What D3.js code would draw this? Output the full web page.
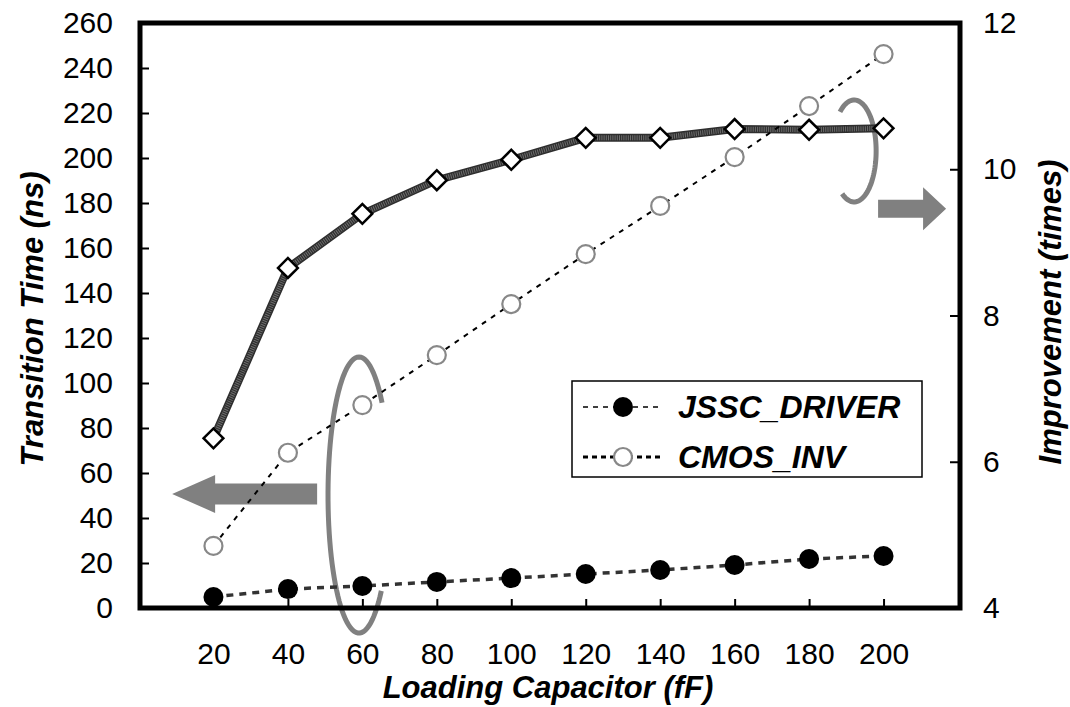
<!DOCTYPE html>
<html>
<head>
<script src="https://d3js.org/d3.v7.min.js"></script>
<style>
  body { margin: 0; background: #fff; }
  text { font-family: Arial, "Liberation Sans", sans-serif; fill: #000; }
  .tick-label { font-size: 30px; }
  .title { font-size: 31px; font-weight: bold; font-style: italic; }
  .legend-label { font-size: 32px; font-weight: bold; font-style: italic; }
</style>
</head>
<body>
<svg width="1070" height="707"></svg>
<script>
// loading capacitor (fF)
const caps = [20, 40, 60, 80, 100, 120, 140, 160, 180, 200];
// transition time (ns), left axis
const jsscDriver = [4.9, 8.4, 9.8, 11.6, 13.3, 15.1, 16.9, 19.1, 21.8, 23.1];
const cmosInv = [27.6, 69, 90.2, 112.4, 135.1, 157.3, 178.7, 200.4, 223.1, 246.2];
// improvement (times), right axis
const improvement = [6.32, 8.65, 9.39, 9.85, 10.13, 10.43, 10.43, 10.55, 10.54, 10.56];

const leftTicks = d3.range(0, 261, 20);
const rightTicks = [4, 6, 8, 10, 12];

const svg = d3.select("svg");
const plotL = 140, plotR = 960, plotT = 23, plotB = 608;

const x = d3.scaleLinear().domain([0, 220]).range([139, 958]);
const yL = d3.scaleLinear().domain([0, 260]).range([plotB, plotT]);
const yR = d3.scaleLinear().domain([4, 12]).range([plotB, plotT]);

const gray = "#808080";

// annotations: ellipses + arrows (drawn below the series)
function arcPath(cx, cy, rx, ry, a0, a1) {
  const pts = [];
  const n = 80;
  for (let i = 0; i <= n; i++) {
    const a = (a0 + (a1 - a0) * i / n) * Math.PI / 180;
    pts.push([cx + rx * Math.cos(a), cy + ry * Math.sin(a)]);
  }
  return d3.line()(pts);
}
const ann = svg.append("g");
ann.append("path")
  .attr("d", arcPath(x(59.1), yL(50.2), 31, 138, -42, -316))
  .attr("fill", "none").attr("stroke", gray).attr("stroke-width", 5);
ann.append("path")
  .attr("d", arcPath(x(192.1), yR(10.25), 22, 51, -130, 123))
  .attr("fill", "none").attr("stroke", gray).attr("stroke-width", 5);

const lArrow = [[0, 0], [43, -19], [43, -10.5], [145, -10.5], [145, 10.5], [43, 10.5], [43, 19]];
ann.append("polygon")
  .attr("points", lArrow.map(p => [x(8.9) + p[0], yL(50.7) + p[1]]).join(" "))
  .attr("fill", gray);
const rArrow = [[0, 0], [-23, -21.5], [-23, -9], [-68, -9], [-68, 9], [-23, 9], [-23, 21.5]];
ann.append("polygon")
  .attr("points", rArrow.map(p => [x(216.8) + p[0], yR(9.46) + p[1]]).join(" "))
  .attr("fill", gray);

// frame
svg.append("rect")
  .attr("x", plotL).attr("y", plotT)
  .attr("width", plotR - plotL).attr("height", plotB - plotT)
  .attr("fill", "none").attr("stroke", "#000").attr("stroke-width", 5);

// axes
const xAxis = svg.append("g")
  .attr("transform", `translate(0,${plotB})`)
  .call(d3.axisBottom(x).tickValues(caps).tickSizeInner(-9).tickSizeOuter(0).tickPadding(25));
const yAxisL = svg.append("g")
  .attr("transform", `translate(${plotL},0)`)
  .call(d3.axisLeft(yL).tickValues(leftTicks).tickSizeInner(-9).tickSizeOuter(0).tickPadding(27));
const yAxisR = svg.append("g")
  .attr("transform", `translate(${plotR},0)`)
  .call(d3.axisRight(yR).tickValues(rightTicks).tickSizeInner(-10).tickSizeOuter(0).tickPadding(23));

[xAxis, yAxisL, yAxisR].forEach(g => {
  g.select(".domain").remove();
  g.selectAll(".tick line").attr("stroke", "#000").attr("stroke-width", 2);
  g.selectAll(".tick text").attr("class", "tick-label").attr("fill", "#000");
  g.attr("font-size", null).attr("font-family", null);
});
xAxis.selectAll(".tick text").attr("dy", "0.32em").attr("y", 46);

// axis titles
svg.append("text").attr("class", "title")
  .attr("x", 548).attr("y", 698).attr("text-anchor", "middle")
  .text("Loading Capacitor (fF)");
svg.append("text").attr("class", "title")
  .attr("transform", "translate(43,319) rotate(-90)")
  .attr("text-anchor", "middle")
  .text("Transition Time (ns)");
svg.append("text").attr("class", "title")
  .attr("transform", "translate(1061,312) rotate(-90)")
  .attr("text-anchor", "middle")
  .text("Improvement (times)");

// improvement series (thick hatched line)
const impLine = d3.line().x((d, i) => x(caps[i])).y(d => yR(d));
svg.append("path").datum(improvement)
  .attr("d", impLine).attr("fill", "none")
  .attr("stroke", "#2e2e2e").attr("stroke-width", 8);
svg.append("path").datum(improvement)
  .attr("d", impLine).attr("fill", "none")
  .attr("stroke", "#6e6e6e").attr("stroke-width", 5).attr("stroke-dasharray", "1,1.2");

// CMOS_INV
const lLine = d3.line().x((d, i) => x(caps[i])).y(d => yL(d));
svg.append("path").datum(cmosInv)
  .attr("d", lLine).attr("fill", "none")
  .attr("stroke", "#000").attr("stroke-width", 2).attr("stroke-dasharray", "5,6");
// JSSC_DRIVER
svg.append("path").datum(jsscDriver)
  .attr("d", lLine).attr("fill", "none")
  .attr("stroke", "#333").attr("stroke-width", 3.5).attr("stroke-dasharray", "7,6");

// markers
svg.append("g").selectAll("circle").data(cmosInv).join("circle")
  .attr("cx", (d, i) => x(caps[i])).attr("cy", d => yL(d)).attr("r", 9)
  .attr("fill", "#fff").attr("stroke", "#888").attr("stroke-width", 2.2);
svg.append("g").selectAll("circle").data(jsscDriver).join("circle")
  .attr("cx", (d, i) => x(caps[i])).attr("cy", d => yL(d)).attr("r", 10)
  .attr("fill", "#000");
svg.append("g").selectAll("rect").data(improvement).join("rect")
  .attr("x", -7).attr("y", -7).attr("width", 14).attr("height", 14)
  .attr("transform", (d, i) => `translate(${x(caps[i])},${yR(d)}) rotate(45)`)
  .attr("fill", "#fff").attr("stroke", "#000").attr("stroke-width", 2.5);

// legend
const lg = svg.append("g").attr("transform", "translate(572,381)");
lg.append("rect").attr("width", 350).attr("height", 96)
  .attr("fill", "#fff").attr("stroke", "#000").attr("stroke-width", 1.5);
const legendItems = [
  { name: "JSSC_DRIVER", y: 26, dash: "5,5", w: 1.5 },
  { name: "CMOS_INV", y: 76, dash: "5,4", w: 3 }
];
legendItems.forEach((it, k) => {
  lg.append("line").attr("x1", 11).attr("x2", 89).attr("y1", it.y).attr("y2", it.y)
    .attr("stroke", "#000").attr("stroke-width", it.w).attr("stroke-dasharray", it.dash);
  if (k === 0) {
    lg.append("circle").attr("cx", 51).attr("cy", it.y).attr("r", 10).attr("fill", "#000");
  } else {
    lg.append("circle").attr("cx", 51).attr("cy", it.y).attr("r", 9)
      .attr("fill", "#fff").attr("stroke", "#888").attr("stroke-width", 2.2);
  }
  lg.append("text").attr("class", "legend-label").attr("x", 106).attr("y", it.y + 11)
    .text(it.name);
});
</script>
</body>
</html>
